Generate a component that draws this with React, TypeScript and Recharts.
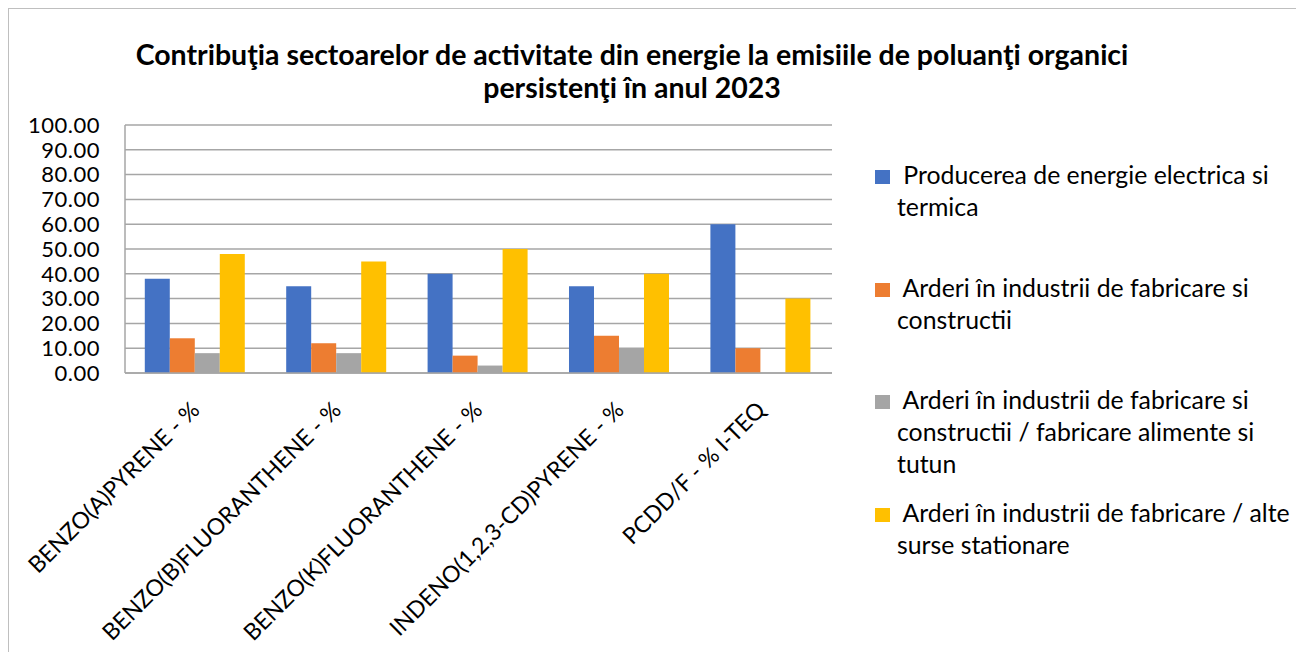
import React from "react";
import { BarChart, Bar, XAxis, YAxis, CartesianGrid } from "recharts";

const categories = [
  "BENZO(A)PYRENE - %",
  "BENZO(B)FLUORANTHENE - %",
  "BENZO(K)FLUORANTHENE - %",
  "INDENO(1,2,3-CD)PYRENE - %",
  "PCDD/F - % I-TEQ",
];

const energieElectrica = [38, 35, 40, 35, 60];
const industriiConstructii = [14, 12, 7, 15, 10];
const alimenteTutun = [8, 8, 3, 10, 0];
const alteSurse = [48, 45, 50, 40, 30];

const yTicks = [0, 10, 20, 30, 40, 50, 60, 70, 80, 90, 100];

const seriesKeys = ["s1", "s2", "s3", "s4"];
const seriesNames = [
  " Producerea de energie electrica si\ntermica",
  " Arderi în industrii de fabricare si\nconstructii",
  " Arderi în industrii de fabricare si\nconstructii / fabricare alimente si\ntutun",
  " Arderi în industrii de fabricare / alte\nsurse stationare",
];
const seriesColors = ["#4472C4", "#ED7D31", "#A5A5A5", "#FFC000"];

const data = categories.map((name, i) => ({
  name,
  s1: energieElectrica[i],
  s2: industriiConstructii[i],
  s3: alimenteTutun[i],
  s4: alteSurse[i],
}));

const FONT = "Lato, 'Noto Sans', sans-serif";

// legend entries sit at fixed vertical slots like the Excel original
const legendTops = [150, 263, 375, 488];

// rotated category label, centre line ends a bit below the axis
const CategoryTick = (props: any) => {
  const { x, y, payload } = props;
  const ax = x - 1;
  const ay = y + 24;
  return (
    <text
      x={ax}
      y={ay}
      transform={`rotate(-45, ${ax}, ${ay})`}
      textAnchor="end"
      dominantBaseline="central"
      fontSize={23}
      fontFamily={FONT}
      fill="#000"
    >
      {payload.value}
    </text>
  );
};

export default function App() {
  return (
    <div
      style={{
        position: "relative",
        width: 1300,
        height: 660,
        border: "1px solid #bfbfbf",
        fontFamily: FONT,
        background: "#fff",
      }}
    >
      <div
        style={{
          position: "absolute",
          left: 0,
          top: 29,
          width: 1246,
          textAlign: "center",
          fontWeight: 700,
          fontSize: 28.5,
          lineHeight: "33px",
          color: "#000",
        }}
      >
        Contribuţia sectoarelor de activitate din energie la emisiile de poluanţi organici
        <br />
        persistenţi în anul 2023
      </div>

      <div style={{ position: "absolute", left: 0, top: 0 }}>
        <BarChart
          width={1295}
          height={640}
          data={data}
          margin={{ top: 116, right: 472, bottom: 6, left: 26 }}
          barGap={0}
          barCategoryGap="14%"
        >
          <CartesianGrid vertical={false} stroke="#a6a6a6" strokeWidth={1.5} />
          <XAxis
            dataKey="name"
            interval={0}
            height={270}
            tickLine={false}
            axisLine={{ stroke: "#a6a6a6", strokeWidth: 1.5 }}
            tick={<CategoryTick />}
          />
          <YAxis
            width={90}
            domain={[0, 100]}
            ticks={yTicks}
            interval={0}
            tickFormatter={(v: number) => v.toFixed(2)}
            tickLine={false}
            axisLine={{ stroke: "#a6a6a6", strokeWidth: 1.5 }}
            tick={{ fontSize: 22, fill: "#000", fontFamily: FONT, letterSpacing: 0.5 }}
            tickMargin={19}
          />
          {seriesKeys.map((k, i) => (
            <Bar
              key={k}
              dataKey={k}
              name={seriesNames[i]}
              fill={seriesColors[i]}
              isAnimationActive={false}
            />
          ))}
        </BarChart>
      </div>

      {seriesNames.map((name, i) => (
        <div
          key={i}
          style={{
            position: "absolute",
            left: 866,
            top: legendTops[i],
            display: "flex",
            alignItems: "flex-start",
          }}
        >
          <div
            style={{
              width: 15,
              height: 14,
              background: seriesColors[i],
              marginTop: 11,
              marginRight: 7,
              flexShrink: 0,
            }}
          />
          <div
            style={{
              whiteSpace: "pre",
              fontSize: 24.8,
              lineHeight: "32px",
              color: "#000",
            }}
          >
            {name}
          </div>
        </div>
      ))}
    </div>
  );
}
